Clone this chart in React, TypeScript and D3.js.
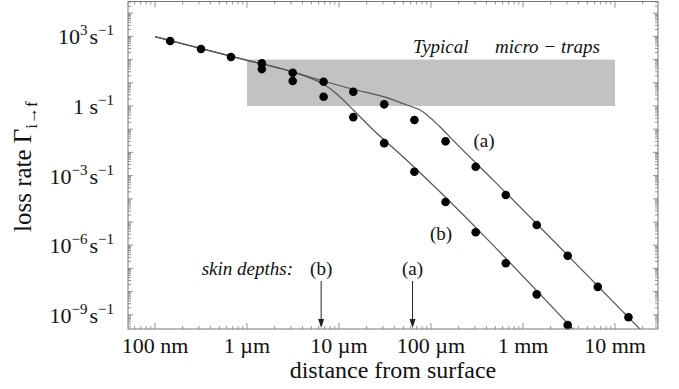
import React from 'react';
import * as d3 from 'd3';

const W = 679;
const H = 389;

// measured dots
const distances = [1.46e-7, 3.16e-7, 6.7e-7, 1.45e-6, 3.14e-6, 6.8e-6, 1.43e-5, 3.1e-5, 6.6e-5, 1.44e-4, 3.06e-4, 6.5e-4, 1.41e-3, 3.06e-3, 6.5e-3, 1.4e-2];
const sharedRates = [631, 288, 130];
const ratesA = [69, 27, 11.1, 4.1, 1.18, 0.25, 0.03, 2.4e-3, 1.45e-4, 7.4e-6, 3.5e-7, 1.6e-8, 7.8e-10];
const ratesB = [39, 12, 2.5, 0.33, 0.025, 1.47e-3, 7.3e-5, 3.6e-6, 1.66e-7, 7.6e-9, 3.6e-10];

// theory curves
const curveAD = [1e-7, 1.03e-6, 2.93e-6, 6.75e-6, 1.43e-5, 3.03e-5, 5.45e-5, 7.6e-5, 1.25e-4, 1.73e-4, 4.72e-4, 1.87e-2];
const curveAG = [970, 91, 32, 12, 5.25, 2.52, 1.1, 0.67, 0.128, 0.034, 6.5e-4, 2.4e-10];
const curveBD = [1e-7, 1.03e-6, 2.93e-6, 4.46e-6, 6.75e-6, 9.45e-6, 1.43e-5, 2.36e-5, 4.6e-5, 3.49e-3];
const curveBG = [970, 91, 32, 18.3, 8.9, 3.3, 0.67, 0.092, 8.5e-3, 2.44e-10];

// trap band
const trapD = [1e-6, 1e-2];
const trapG = [1, 100];

// skin depths
const skinLabels = ['(b)', '(a)'];
const skinD = [6.4e-6, 6.3e-5];

// axes
const xTickVals = [1e-7, 1e-6, 1e-5, 1e-4, 1e-3, 1e-2];
const xTickLabels = ['100 nm', '1 µm', '10 µm', '100 µm', '1 mm', '10 mm'];
const yLabelExps = [3, 0, -3, -6, -9];

const FONT = "'Liberation Serif', 'Times New Roman', 'DejaVu Serif', serif";

export default function App() {
  const left = 128, right = 658, top = 1.5, bottom = 329;
  const x = d3.scaleLog().domain([Math.pow(10, -7.2935), Math.pow(10, -1.5326)]).range([left, right]);
  const y = d3.scaleLog().domain([Math.pow(10, -9.612), Math.pow(10, 4.504)]).range([bottom, top]);
  const line = d3.line<[number, number]>().x(d => x(d[0])).y(d => y(d[1])).curve(d3.curveMonotoneX);

  const ptsA: [number, number][] = curveAD.map((d, i) => [d, curveAG[i]]);
  const ptsB: [number, number][] = curveBD.map((d, i) => [d, curveBG[i]]);

  const dots: [number, number][] = [];
  sharedRates.forEach((r, i) => dots.push([distances[i], r]));
  ratesA.forEach((r, i) => dots.push([distances[i + 3], r]));
  ratesB.forEach((r, i) => dots.push([distances[i + 3], r]));

  const [xd0, xd1] = x.domain();
  const [yd0, yd1] = y.domain();
  const xMinor: number[] = [];
  for (let e = -9; e <= 0; e++) for (let k = 2; k <= 9; k++) { const v = k * Math.pow(10, e); if (v > xd0 && v < xd1) xMinor.push(v); }
  const xMajor: number[] = [];
  for (let e = -9; e <= 0; e++) { const v = Math.pow(10, e); if (v > xd0 && v < xd1) xMajor.push(v); }
  const yMinor: number[] = [];
  for (let e = -11; e <= 5; e++) for (let k = 2; k <= 9; k++) { const v = k * Math.pow(10, e); if (v > yd0 && v < yd1) yMinor.push(v); }
  const yMajor: number[] = [];
  for (let e = -11; e <= 5; e++) { const v = Math.pow(10, e); if (v > yd0 && v < yd1) yMajor.push(v); }

  const tickColor = '#777';
  const arrowTop = 281;
  const arrowTip = 328;

  return (
    <svg width={W} height={H} style={{ position: 'absolute', left: 0, top: 0, background: '#fff' }} fontFamily={FONT}>
      <defs>
        <clipPath id="plotClip"><rect x={left} y={top} width={right - left} height={bottom - top} /></clipPath>
      </defs>
      <rect x={0} y={0} width={W} height={H} fill="#fff" />
      {/* trap band */}
      <rect x={x(trapD[0])} y={y(trapG[1])} width={x(trapD[1]) - x(trapD[0])} height={y(trapG[0]) - y(trapG[1])} fill="#c2c2c2" />
      {/* ticks */}
      <g stroke={tickColor} strokeWidth={0.8}>
        {xMajor.map((v, i) => (
          <g key={'xM' + i}>
            <line x1={x(v)} x2={x(v)} y1={bottom} y2={bottom - 6} />
            <line x1={x(v)} x2={x(v)} y1={top} y2={top + 6} />
          </g>
        ))}
        {xMinor.map((v, i) => (
          <g key={'xm' + i}>
            <line x1={x(v)} x2={x(v)} y1={bottom} y2={bottom - 3} />
            <line x1={x(v)} x2={x(v)} y1={top} y2={top + 3} />
          </g>
        ))}
        {yMajor.map((v, i) => (
          <g key={'yM' + i}>
            <line x1={left} x2={left + 5} y1={y(v)} y2={y(v)} />
            <line x1={right} x2={right - 5} y1={y(v)} y2={y(v)} />
          </g>
        ))}
        {yMinor.map((v, i) => (
          <g key={'ym' + i}>
            <line x1={left} x2={left + 3} y1={y(v)} y2={y(v)} />
            <line x1={right} x2={right - 3} y1={y(v)} y2={y(v)} />
          </g>
        ))}
      </g>
      {/* curves */}
      <g clipPath="url(#plotClip)" fill="none" stroke="#555" strokeWidth={1.2}>
        <path d={line(ptsA) || ''} />
        <path d={line(ptsB) || ''} />
      </g>
      {/* dots */}
      <g fill="#000">
        {dots.map((d, i) => <circle key={'d' + i} cx={x(d[0])} cy={y(d[1])} r={4.3} />)}
      </g>
      {/* frame */}
      <rect x={left} y={top} width={right - left} height={bottom - top} fill="none" stroke={tickColor} strokeWidth={1} />
      {/* x tick labels */}
      {xTickVals.map((v, i) => (
        <text key={'xl' + i} x={x(v)} y={353} textAnchor="middle" fontSize={22} fill="#111">{xTickLabels[i]}</text>
      ))}
      {/* y tick labels */}
      {yLabelExps.map((e, i) => {
        const ty = y(Math.pow(10, e)) + 8;
        return e === 0 ? (
          <text key={'yl' + i} x={114} y={ty} textAnchor="end" fontSize={22} fill="#111">
            1 s<tspan dy={-9} fontSize={15}>−1</tspan>
          </text>
        ) : (
          <text key={'yl' + i} x={114} y={ty} textAnchor="end" fontSize={22} fill="#111">
            10<tspan dy={-9} fontSize={15}>{e < 0 ? '−' + Math.abs(e) : String(e)}</tspan><tspan dy={9} dx={2}>s</tspan><tspan dy={-9} fontSize={15}>−1</tspan>
          </text>
        );
      })}
      {/* axis titles */}
      <text x={(left + right) / 2} y={378} textAnchor="middle" fontSize={24} fill="#111">distance from surface</text>
      <text transform="translate(31,232) rotate(-90)" textAnchor="start" fontSize={25} fill="#111">
        loss rate Γ<tspan dy={6} fontSize={17}>i→f</tspan>
      </text>
      {/* annotations */}
      <text x={413} y={53} fontSize={19} fontStyle="italic" fill="#111">Typical</text>
      <text x={495} y={53} fontSize={19} fontStyle="italic" fill="#111">micro − traps</text>
      <text x={484} y={147} textAnchor="middle" fontSize={19} fill="#111">(a)</text>
      <text x={441} y={240} textAnchor="middle" fontSize={19} fill="#111">(b)</text>
      <text x={293} y={275} textAnchor="end" fontSize={19} fontStyle="italic" fill="#111">skin depths:</text>
      {skinD.map((d, i) => (
        <g key={'sk' + i}>
          <text x={x(d)} y={275} textAnchor="middle" fontSize={19} fill="#111">{skinLabels[i]}</text>
          <line x1={x(d)} x2={x(d)} y1={arrowTop} y2={arrowTip - 8} stroke="#222" strokeWidth={1} />
          <path d={`M${x(d) - 3},${arrowTip - 9} L${x(d) + 3},${arrowTip - 9} L${x(d)},${arrowTip} Z`} fill="#222" />
        </g>
      ))}
    </svg>
  );
}
